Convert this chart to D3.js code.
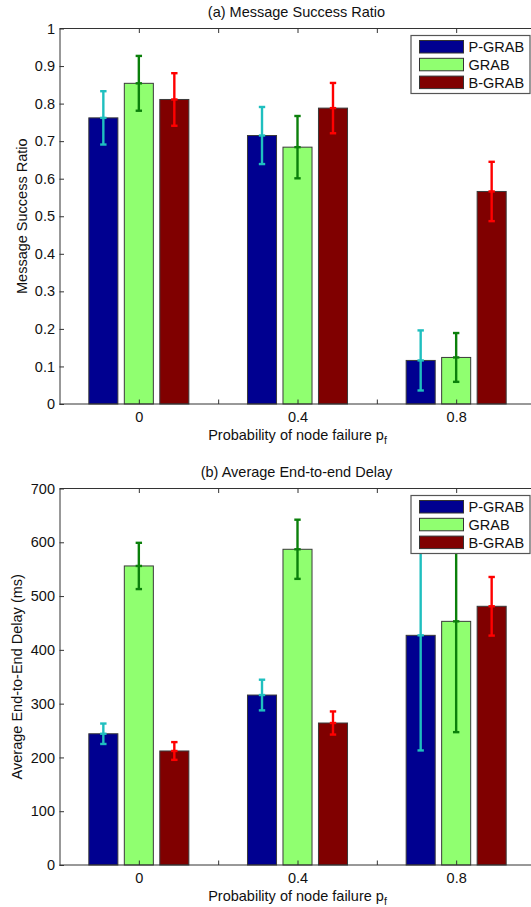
<!DOCTYPE html>
<html>
<head>
<meta charset="utf-8">
<script src="https://cdn.jsdelivr.net/npm/d3@7"></script>
<style>
  body { margin: 0; background: #fff; }
  svg { display: block; font-family: "Liberation Sans", Arial, sans-serif; }
</style>
</head>
<body>
<div class="chart"></div>
<script>
// data
const CATEGORIES = ["0", "0.4", "0.8"];
const SERIES = ["P-GRAB", "GRAB", "B-GRAB"];

const SUCCESS_PGRAB = [0.762, 0.715, 0.116];
const SUCCESS_GRAB  = [0.854, 0.684, 0.124];
const SUCCESS_BGRAB = [0.811, 0.788, 0.566];
const SUCCESS_ERR_PGRAB = [0.071, 0.076, 0.080];
const SUCCESS_ERR_GRAB  = [0.073, 0.083, 0.065];
const SUCCESS_ERR_BGRAB = [0.070, 0.067, 0.079];

const DELAY_PGRAB = [244, 316, 427];
const DELAY_GRAB  = [556, 587, 453];
const DELAY_BGRAB = [212, 264, 481];
const DELAY_ERR_PGRAB = [19, 28.5, 214];
const DELAY_ERR_GRAB  = [43, 55, 206];
const DELAY_ERR_BGRAB = [16.5, 21.5, 54.5];

const SUCCESS_TICKS = [0, 0.1, 0.2, 0.3, 0.4, 0.5, 0.6, 0.7, 0.8, 0.9, 1];
const DELAY_TICKS = [0, 100, 200, 300, 400, 500, 600, 700];
const X_TICKS = [1, 1.5, 2, 2.5, 3];
const X_TICK_LABELS = ["0", "", "0.4", "", "0.8"];

const FILLS = ["#000090", "#90ff70", "#800000"];
const ERR_COLORS = ["#1fbfbf", "#0b800b", "#ff0000"];

const FRAME_WIDTH = 531;
const FRAME_HEIGHT = 907;
const AXIS_COLOR = "#333";
const FONT = "14.5px";

const FRAME = d3.select(".chart")
    .append("svg")
    .attr("width", FRAME_WIDTH)
    .attr("height", FRAME_HEIGHT);

function drawPanel(opts) {
    const left = 59.5, right = 535.5;
    const top = opts.top, bottom = opts.bottom;

    const X_SCALE = d3.scaleLinear().domain([0.5, 3.5]).range([left, right]);
    const Y_SCALE = d3.scaleLinear().domain(opts.domain).range([bottom, top]);

    const g = FRAME.append("g");

    // bars
    const offsets = [-0.2237, 0, 0.2237];
    const barW = X_SCALE(1.183) - X_SCALE(1);
    opts.values.forEach((vals, s) => {
        g.selectAll(null)
            .data(vals)
            .enter()
            .append("rect")
            .attr("x", (d, i) => X_SCALE(i + 1 + offsets[s]) - barW / 2)
            .attr("y", (d) => Y_SCALE(d))
            .attr("width", barW)
            .attr("height", (d) => Y_SCALE(0) - Y_SCALE(d))
            .attr("fill", FILLS[s])
            .attr("stroke", "#3a3a3a")
            .attr("stroke-width", 1);
    });

    // error bars
    const capW = 3.2;
    opts.values.forEach((vals, s) => {
        vals.forEach((v, i) => {
            const cx = X_SCALE(i + 1 + offsets[s]);
            const e = opts.errs[s][i];
            const y1 = Y_SCALE(v + e), y0 = Y_SCALE(v - e), ym = Y_SCALE(v);
            const eg = g.append("g")
                .attr("stroke", ERR_COLORS[s])
                .attr("stroke-width", 2.4);
            eg.append("line").attr("x1", cx).attr("x2", cx).attr("y1", y1).attr("y2", y0);
            [y1, y0, ym].forEach((yy) => {
                eg.append("line")
                    .attr("x1", cx - capW).attr("x2", cx + capW)
                    .attr("y1", yy).attr("y2", yy);
            });
        });
    });

    // axes box (top and bottom, right edge is off the page)
    g.append("line").attr("x1", left).attr("x2", right + 2)
        .attr("y1", top).attr("y2", top).attr("stroke", AXIS_COLOR);
    g.append("line").attr("x1", left).attr("x2", right + 2)
        .attr("y1", bottom).attr("y2", bottom).attr("stroke", AXIS_COLOR);

    // y axis with inward ticks
    const yAxis = g.append("g")
        .attr("transform", "translate(" + left + ",0)")
        .call(d3.axisLeft(Y_SCALE).tickValues(opts.ticks).tickSizeInner(-4.5).tickSizeOuter(0)
            .tickPadding(4.5).tickFormat((d) => d3.format("")(d)));
    yAxis.select(".domain").attr("stroke", AXIS_COLOR);
    yAxis.selectAll(".tick line").attr("stroke", AXIS_COLOR);
    yAxis.selectAll("text").attr("font-size", FONT).attr("fill", "#111")
        .attr("font-family", "Liberation Sans, Arial, sans-serif");

    // x ticks (inward at bottom and top)
    const xAxis = g.append("g")
        .attr("transform", "translate(0," + bottom + ")")
        .call(d3.axisBottom(X_SCALE).tickValues(X_TICKS).tickSizeInner(-4.5).tickSizeOuter(0)
            .tickPadding(7.5).tickFormat((d, i) => X_TICK_LABELS[i]));
    xAxis.select(".domain").remove();
    xAxis.selectAll(".tick line").attr("stroke", AXIS_COLOR);
    xAxis.selectAll("text").attr("font-size", FONT).attr("fill", "#111")
        .attr("font-family", "Liberation Sans, Arial, sans-serif");

    const xTop = g.append("g")
        .attr("transform", "translate(0," + top + ")")
        .call(d3.axisTop(X_SCALE).tickValues(X_TICKS).tickSizeInner(-4.5).tickSizeOuter(0)
            .tickFormat(""));
    xTop.select(".domain").remove();
    xTop.selectAll(".tick line").attr("stroke", AXIS_COLOR);

    // title
    const cx = (left + right) / 2;
    g.append("text")
        .attr("x", cx - 1).attr("y", top - 11.5)
        .attr("text-anchor", "middle").attr("font-size", FONT).attr("fill", "#111")
        .text(opts.title);

    // x label with subscript
    const xl = g.append("text")
        .attr("x", cx).attr("y", bottom + 35.5)
        .attr("text-anchor", "middle").attr("font-size", FONT).attr("fill", "#111");
    xl.append("tspan").text("Probability of node failure p");
    xl.append("tspan").attr("font-size", "10.5px").attr("dy", 4).text("f");

    // y label
    g.append("text")
        .attr("transform", "translate(" + opts.ylabelX + "," + ((top + bottom) / 2) + ") rotate(-90)")
        .attr("text-anchor", "middle").attr("font-size", FONT).attr("fill", "#111")
        .text(opts.ylabel);

    // legend
    const lx = 411, ly = top + 7, lw = 119, lh = 58;
    const leg = g.append("g");
    leg.append("rect").attr("x", lx).attr("y", ly).attr("width", lw).attr("height", lh)
        .attr("fill", "#fff").attr("stroke", "#555").attr("stroke-width", 1.2);
    SERIES.forEach((name, s) => {
        const yy = ly + 5 + s * 17.8;
        leg.append("rect").attr("x", lx + 8.5).attr("y", yy).attr("width", 44).attr("height", 12.5)
            .attr("fill", FILLS[s]).attr("stroke", "#333").attr("stroke-width", 1);
        leg.append("text").attr("x", lx + 57.5).attr("y", yy + 11.5)
            .attr("font-size", FONT).attr("fill", "#111").text(name);
    });
}

drawPanel({
    top: 28.5, bottom: 404, domain: [0, 1], ticks: SUCCESS_TICKS,
    values: [SUCCESS_PGRAB, SUCCESS_GRAB, SUCCESS_BGRAB],
    errs: [SUCCESS_ERR_PGRAB, SUCCESS_ERR_GRAB, SUCCESS_ERR_BGRAB],
    title: "(a) Message Success Ratio",
    ylabel: "Message Success Ratio", ylabelX: 26.5
});

drawPanel({
    top: 488.5, bottom: 865, domain: [0, 700], ticks: DELAY_TICKS,
    values: [DELAY_PGRAB, DELAY_GRAB, DELAY_BGRAB],
    errs: [DELAY_ERR_PGRAB, DELAY_ERR_GRAB, DELAY_ERR_BGRAB],
    title: "(b) Average End-to-end Delay",
    ylabel: "Average End-to-End Delay (ms)", ylabelX: 21.5
});
</script>
</body>
</html>
